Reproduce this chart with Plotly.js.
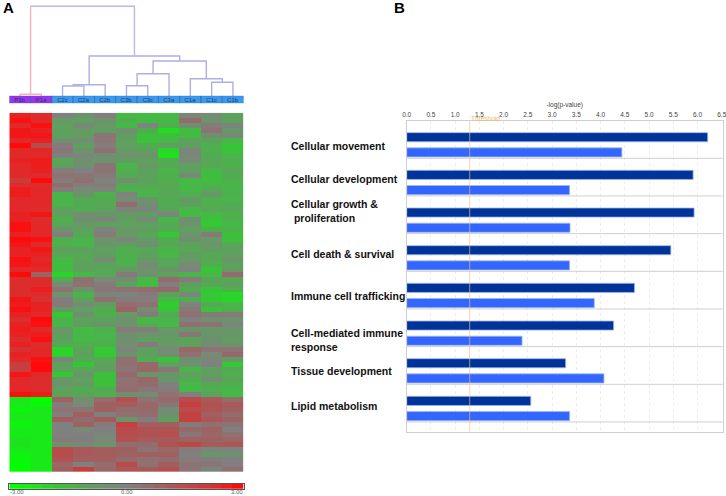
<!DOCTYPE html>
<html>
<head>
<meta charset="utf-8">
<script src="https://cdn.plot.ly/plotly-3.0.1.min.js"></script>
<style>html,body{margin:0;padding:0;background:#fff}#c{width:726px;height:496px}</style>
</head>
<body>
<div id="c"></div>
<script>
// ---- data ----
const sampleNames = ['P1b','P1a','C2c','C2a','C2b','C3b','C3c','C3a','C1a','C1c','C1b'];
const sampleColors = ['#9a35ee','#9a35ee','#3a9af0','#3a9af0','#3a9af0','#3a9af0','#3a9af0','#3a9af0','#3a9af0','#3a9af0','#3a9af0'];
const heatRows = [
[2.6,2.4,0,-.5,.1,-1.6,-1.6,-1.6,-.2,-.4,-1],
[2.9,2.5,-.8,-1,-.6,-1.4,-1.7,-1.6,.7,-.6,-1],
[2.5,2.9,-1,-.3,-.8,-1.6,-.1,-1.4,-.5,.2,-.2],
[2.8,2.6,-1,-.8,-.9,-.5,-1.3,-2.3,-1.7,.4,-.7],
[2.8,2.8,-1,-.9,.4,-.9,-1.8,-1.8,-1.7,-.5,-.3],
[2.5,2.6,-.5,-.4,.3,-1,-1.9,-1.6,-1,-1,-1.5],
[3,1.6,.2,-1,.1,-1,-1.3,-1,-1,-1.4,-1.9],
[2.5,2.5,.3,-.6,.5,-.8,-1,-2.2,-.2,-1.4,-1.9],
[2.5,2.5,0,-.2,-.4,-.6,-.6,-2.4,-.2,-1.3,-1.5],
[2.6,2.7,-1.2,-.5,-.6,-.9,-1,-1.3,-.3,-1.2,-1.4],
[2.5,2.7,-1,-.5,.3,-1.5,-.8,-1.2,-1,-1.2,-1.4],
[2.5,2.6,.2,0,.4,-1.4,-1,-1.5,-1,-1.6,-1.2],
[2.5,2.4,.4,.3,.2,-1.2,-1.1,-1.4,-.3,-1.8,-1.3],
[2.1,3,.1,.5,-.1,-.5,-1,-1.4,-1.6,-1.7,-1.4],
[2.4,2.4,.6,.1,.2,-1.3,-1.2,-1.2,-1.6,-1.5,-1.5],
[2.7,2.5,.1,-.3,-.2,-1.4,-1.4,-1.2,-1.6,-1.2,-1.5],
[2.7,2.5,-1.5,-.7,-1.4,-.1,-1.5,-1.2,-1.4,-.8,-1.4],
[2.5,2.5,-1.5,-1.2,-1.3,-.3,-.6,-1.3,-.8,-1.4,-1.5],
[2.5,2.5,-1.5,-1.3,-1.2,.6,-.4,-1.3,-1,-1.4,-1.3],
[2.5,2.4,-1,-1.3,-1,-.2,-.1,-1,-1.6,-1.2,-1.2],
[2.6,2.8,-1,-.4,-.7,-.8,-.9,-.2,-1.6,-1.6,-1.4],
[2.6,2.4,-1.4,-.5,-.2,-.9,-.3,-1.6,-.5,-1.9,-1.4],
[2.9,2.5,-1.2,-.8,-1,-1,-1,-1.2,-.6,-2,-1.6],
[2.9,2.5,-.6,-1,-.1,-.8,-.9,-1.3,-1,-1.4,-1.5],
[2.6,2.5,.1,-1.2,.2,-.8,-1.2,-2,-.6,.2,-1.8],
[3,2.9,-1.4,-1.5,-.6,-.2,-.8,-1.3,-.5,-.8,-1.8],
[2.8,2.5,-1.4,-1.5,-.7,-.9,-.5,-1.2,-1,-.6,-1.2],
[2.6,2.8,-1,-1,-1,-1.4,-1.2,-1.5,-1.2,-.9,-1],
[2.6,2.6,-1.2,-1.2,-.9,-1.4,-1,-1.6,-.9,-1.2,-1],
[2.9,2.5,-1.5,-1.2,-.4,-1.4,-.9,-1.2,-.8,-1.2,-.7],
[2.8,2.6,-1.8,-1,-1,-1.4,-.3,-1.2,-.3,-1.4,-1.1],
[2.5,2.5,-1.6,-1,-1.2,-.8,-.6,-.7,-.1,-1.9,-.8],
[3,.9,-2.2,-1.6,-1.2,.2,-.5,-1,-1.5,-1.6,.6],
[2.4,2.4,-1.2,.5,-.3,-.5,-1.6,.6,.2,-1.1,-1.2],
[2.4,2.4,-.3,.5,.2,-1,-1.7,.1,-.9,-1.2,-1],
[2.4,2.7,.4,-.6,.3,.5,.6,.7,-1.3,-1.9,-1.4],
[2.4,2.4,-.6,-1.5,-.2,-.1,.2,-1,-.2,-2,-2.2],
[2.8,2.3,.1,-1.1,.5,.2,.1,-1.6,-1.3,-2,-2.2],
[2.7,2.6,.2,-.3,-.9,.6,.5,-2.1,-.1,-1.2,-1.5],
[2.9,2.6,-.8,-1,-1.3,.9,-.4,-1.9,.3,-1.9,-1.4],
[2.6,2.5,-2,-.4,-1.4,-.8,.2,-1.2,.5,.2,.2],
[2.4,3,-1.5,-1.1,-1,-.6,-1.6,-1.5,0,-.5,-.6],
[2.6,2.9,-1.5,-.9,-.7,-.6,-1.4,-1.6,.5,.4,-.2],
[2.7,2.5,-.8,-1.6,-1.4,.2,.1,-.8,-.7,-.7,-.7],
[2.6,2.7,-.8,-1.6,-1.5,-.5,-.6,-.7,.3,-.7,-.7],
[2.4,2.9,-1.1,-1.6,-1.5,-.5,-1,-.9,-1.1,-.5,-.9],
[2.6,2.4,-1.2,-1.4,-1.4,-.4,.2,-.8,-1,-.4,-.6],
[2.3,2.5,-2.2,-1.1,-2,-.2,-1,-.3,.8,.4,.4],
[2.6,2.5,-2.2,-1,-2,-.6,-1,-.4,.5,-.3,.7],
[2.5,2.9,-.2,-1.3,-1.2,.5,-1.3,-1.9,-.5,-.2,-.8],
[2,3,-1,-1.9,-1,.5,.7,-1,-.6,0,-2],
[2,3,-1.1,-1.2,-.9,.3,.8,.3,-1.5,-1,-1.2],
[2.8,2.5,-2,-.6,-1.8,.7,-.6,-.7,-1,-1,-1.4],
[2.5,2.4,-.7,-1,-1.8,.4,.8,-.7,-1.3,-.5,-1.1],
[2.5,2.4,-.7,-.8,-1.8,.5,.6,0,-1.6,-1.2,-1.4],
[2.5,2.4,-1,-1.3,-1.2,.6,.3,.2,-1.6,-1.4,-1.5],
[2.9,2.7,-1.1,-1.1,-1.4,-.5,-.4,.5,.1,-1,-1.7],
[-2.5,-3,.9,-.4,.6,1.5,.4,.7,1.6,1.2,.6],
[-2.5,-2.8,.2,-.3,1,1.1,.8,.3,2,1.4,1.2],
[-2.8,-2.5,.4,.4,1,.6,.7,-.4,1.6,1.3,1],
[-2.5,-2.5,.1,1,0,.5,.6,-.5,1.9,1,.6],
[-2.5,-2.5,1.1,.6,1.2,-.7,.1,-.9,1.9,1.3,.9],
[-2.8,-2.5,0,.9,.2,2,1,1,.2,.5,.4],
[-2.5,-2.5,0,-.3,0,1.6,1.4,1.4,.7,.9,.1],
[-2.6,-2.5,0,0,-.2,1.6,1.4,1.5,.3,.8,.5],
[-2.4,-2.5,.2,.1,-.3,1.4,1.2,1.2,.9,.9,.8],
[-2.4,-2.5,-.5,-.3,-.6,.6,.6,1.4,1.7,1.2,1.3],
[-2.5,-2.5,1.6,1.2,1.1,1,.4,.8,.1,-.2,-.1],
[-2.7,-2.5,1.6,1.2,1.1,.9,1,1,0,-.7,-.5],
[-2.8,-2.5,1.4,1,1,.7,.5,.6,.2,.1,0],
[-2.9,-2.5,.8,0,.6,1.6,.5,1.1,.4,.3,.1],
[-3,-2.5,1,2,.8,1.3,1.2,1.4,.4,-.2,.5]
];
// dendrogram links: left / right column position, joining height, child heights
const linkLeft      = [0,   2,   2.5,  5,    5.5,  9,    8,    6.25, 3.25, 0.5,  0.5];
const linkRight     = [1,   3,   4,    6,    7,    10,   9.5,  8.75, 7.5,  0.5,  5.375];
const linkHeight    = [1.7, 10,  11.3, 10.3, 22.3, 13.7, 17.3, 35,   40,   89.7, 89.7];
const linkLeftBase  = [0,   0,   10,   0,    10.3, 0,    0,    22.3, 11.3, 1.7,  89.7];
const linkRightBase = [0,   0,   0,    0,    0,    0,    13.7, 17.3, 35,   89.7, 40];
const linkColor = ['#f0b4b4','#aeaee6','#aeaee6','#aeaee6','#aeaee6','#aeaee6','#aeaee6','#aeaee6','#aeaee6','#f0b4b4','#c4b4e4'];
const scaleSteps = [-3,-2.7,-2.4,-2.1,-1.8,-1.5,-1.2,-.9,-.6,-.3,0,.3,.6,.9,1.2,1.5,1.8,2.1,2.4,2.7,3];
const scaleLabels = ['-3.00','0.00','3.00'];
const barCategories = ['Cellular movement','Cellular development','Cellular growth &<br>\u00a0proliferation','Cell death & survival','Immune cell trafficking','Cell-mediated immune<br>response','Tissue development','Lipid metabolism'];
const darkValues  = [6.21,5.91,5.93,5.45,4.70,4.27,3.28,2.56];
const lightValues = [4.44,3.36,3.37,3.36,3.87,2.38,4.07,3.36];
const threshold = 1.3;

// ---- layout helpers (pixel -> paper) ----
const W = 726, H = 496;
const px = x => x / W;
const py = y => 1 - y / H;
const heatScale = [
  [0,'rgb(0,255,0)'],[0.083,'rgb(25,232,25)'],[0.167,'rgb(52,200,52)'],[0.333,'rgb(94,160,94)'],
  [0.5,'rgb(128,128,128)'],[0.667,'rgb(160,96,96)'],[0.833,'rgb(200,62,62)'],[0.917,'rgb(226,40,40)'],[1,'rgb(255,10,10)']];
const colIdx = sampleNames.map((_, i) => i);

const traces = [];
traces.push({type:'heatmap', z:heatRows, x:colIdx, xaxis:'x', yaxis:'y', zmin:-3, zmax:3,
  colorscale:heatScale, showscale:false, hoverinfo:'skip'});
linkLeft.forEach((l, i) => {
  traces.push({type:'scatter', mode:'lines', xaxis:'x', yaxis:'y2', hoverinfo:'skip',
    x:[l, l, linkRight[i], linkRight[i]],
    y:[linkLeftBase[i], linkHeight[i], linkHeight[i], linkRightBase[i]],
    line:{color:linkColor[i], width:1.4, shape:'linear'}});
});
traces.push({type:'bar', x:colIdx, y:sampleNames.map(() => 1), width:1, xaxis:'x', yaxis:'y3', hoverinfo:'skip',
  marker:{color:sampleColors, line:{color:'#2b5f9e', width:0.6}},
  text:sampleNames, textposition:'inside', insidetextanchor:'middle', textangle:0, constraintext:'none',
  textfont:{size:6, color:'#1d3a6b', family:'Liberation Sans, Arial, sans-serif'}});
traces.push({type:'heatmap', z:[scaleSteps], xaxis:'x3', yaxis:'y5', zmin:-3, zmax:3,
  colorscale:heatScale, showscale:false, hoverinfo:'skip'});
const barLine = {color:'#9db6ee', width:0.8};
traces.push({type:'bar', orientation:'h', y:barCategories, x:darkValues, xaxis:'x2', yaxis:'y4',
  marker:{color:'#003399', line:barLine}, hoverinfo:'skip'});
traces.push({type:'bar', orientation:'h', y:barCategories, x:lightValues, xaxis:'x2', yaxis:'y4',
  marker:{color:'#3366ff', line:barLine}, hoverinfo:'skip'});

const shapes = barCategories.slice().map((_, i) => ({type:'line', xref:'x2 domain', yref:'y4',
  x0:0, x1:1, y0:i + 0.358, y1:i + 0.358, line:{color:'#cfcfcf', width:1}, layer:'above'}));
shapes.push({type:'line', xref:'x2', yref:'y4 domain', x0:threshold, x1:threshold, y0:0, y1:1,
  line:{color:'rgba(240,195,120,0.65)', width:1}, layer:'above'});

const labelY = [146, 179, 211, 254, 296, 340, 371, 406];
const labelFont = {family:'Liberation Sans, Arial, sans-serif', size:10.5, color:'#111'};
const annotations = barCategories.map((t, i) => ({xref:'paper', yref:'paper', x:px(290), y:py(labelY[i]),
  xanchor:'left', yanchor:'middle', align:'left', text:'<b>' + t.replace('&','&amp;') + '</b>', showarrow:false,
  font:labelFont, borderpad:0}));
annotations.push({xref:'paper', yref:'paper', x:px(2), y:py(8), xanchor:'left', yanchor:'middle', text:'<b>A</b>',
  showarrow:false, font:{family:'Liberation Sans, Arial, sans-serif', size:15, color:'#000'}, borderpad:0});
annotations.push({xref:'paper', yref:'paper', x:px(393), y:py(8), xanchor:'left', yanchor:'middle', text:'<b>B</b>',
  showarrow:false, font:{family:'Liberation Sans, Arial, sans-serif', size:15, color:'#000'}, borderpad:0});
annotations.push({xref:'x2', yref:'paper', x:threshold, y:py(118), xanchor:'left', yanchor:'middle', text:'Threshold',
  showarrow:false, font:{family:'Liberation Sans, Arial, sans-serif', size:6.5, color:'#eab866'}, borderpad:0});
const scaleFont = {family:'Liberation Sans, Arial, sans-serif', size:6, color:'#666'};
[[px(9.3),'left'],[px(126.5),'center'],[px(243.6),'right']].forEach((p, i) => {
  annotations.push({xref:'paper', yref:'paper', x:p[0], y:py(491.8), xanchor:p[1], yanchor:'middle',
    text:scaleLabels[i], showarrow:false, font:scaleFont, borderpad:0});
});

const hidden = {visible:false, fixedrange:true};
const layout = {
  width:W, height:H, margin:{l:0,r:0,t:0,b:0}, paper_bgcolor:'#fff', plot_bgcolor:'rgba(0,0,0,0)',
  showlegend:false, bargap:0.193, bargroupgap:0.4, barmode:'group',
  xaxis:Object.assign({}, hidden, {domain:[px(9.3),px(243.6)], range:[-0.5,10.5], anchor:'y'}),
  yaxis:Object.assign({}, hidden, {domain:[py(472),py(112.7)], range:[71.5,-0.5], anchor:'x'}),
  yaxis2:Object.assign({}, hidden, {domain:[py(96),py(0)], range:[0,96], anchor:'x'}),
  yaxis3:Object.assign({}, hidden, {domain:[py(103.3),py(95.7)], range:[0,1], anchor:'x'}),
  xaxis2:{domain:[px(406.7),px(722.7)], range:[0,6.52], anchor:'y4', side:'top', dtick:0.5, tick0:0,
    tickformat:'.1f', ticks:'', ticklen:0, ticklabeloverflow:'allow',
    tickfont:{size:6.5,color:'#444',family:'Liberation Sans, Arial, sans-serif'},
    showgrid:true, gridcolor:'#ececec', griddash:'dot', gridwidth:1, zeroline:false,
    showline:true, mirror:true, linecolor:'#cfcfcf', linewidth:1,
    title:{text:'-log(p-value)', font:{size:6.5,color:'#444',family:'Liberation Sans, Arial, sans-serif'}, standoff:3}},
  yaxis4:{domain:[py(431.7),py(121)], range:[7.616,-0.632], type:'category', categoryorder:'array', categoryarray:barCategories,
    anchor:'x2', showticklabels:false, ticks:'', showgrid:false, zeroline:false,
    showline:true, mirror:true, linecolor:'#cfcfcf', linewidth:1},
  xaxis3:{domain:[px(9.3),px(243.6)], anchor:'y5', showticklabels:false, ticks:'', showgrid:false, zeroline:false,
    showline:true, mirror:true, linecolor:'#555', linewidth:1},
  yaxis5:{domain:[py(488.7),py(484)], anchor:'x3', showticklabels:false, ticks:'', showgrid:false, zeroline:false,
    showline:true, mirror:true, linecolor:'#555', linewidth:1},
  shapes:shapes, annotations:annotations
};
Plotly.newPlot('c', traces, layout, {displayModeBar:false, staticPlot:true});
</script>
</body>
</html>
